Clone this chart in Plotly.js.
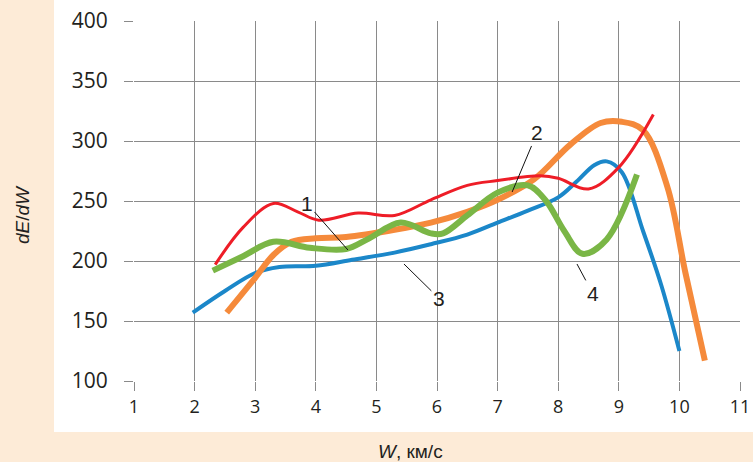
<!DOCTYPE html>
<html>
<head>
<meta charset="utf-8">
<script src="https://cdn.plot.ly/plotly-3.0.1.min.js"></script>
<style>html,body{margin:0;padding:0;background:#fdebd7;}#chart{width:753px;height:462px;}</style>
</head>
<body>
<div id="chart"></div>
<script>
// Curve 1 (red)
const x1 = [2.34, 2.8, 3.3, 3.7, 4.05, 4.7, 5.3, 5.9, 6.5, 7.0, 7.7, 8.0, 8.5, 9.0, 9.57];
const y1 = [197, 228, 248, 241, 234, 240, 238, 251, 263, 267, 271, 269, 260, 278, 322];
// Curve 2 (orange)
const x2 = [2.53, 3.0, 3.3, 3.6, 4.0, 4.5, 5.3, 5.9, 6.5, 7.0, 7.6, 8.2, 8.7, 9.05, 9.4, 9.8, 10.1, 10.42];
const y2 = [157, 186, 205, 216, 219, 220, 226, 232, 241, 251, 268, 297, 315, 316, 309, 262, 190, 117];
// Curve 3 (blue)
const x3 = [1.97, 2.5, 3.0, 3.4, 4.0, 4.6, 5.3, 5.9, 6.5, 7.0, 7.5, 8.0, 8.3, 8.6, 8.8, 9.05, 9.4, 9.7, 10.0];
const y3 = [157, 175, 190, 195, 196, 201, 207, 214, 222, 232, 242, 253, 266, 280, 283, 274, 225, 180, 125];
// Curve 4 (green)
const x4 = [2.3, 2.8, 3.3, 3.9, 4.5, 4.85, 5.4, 5.9, 6.1, 6.5, 7.0, 7.5, 7.8, 8.1, 8.4, 8.8, 9.3];
const y4 = [192, 204, 216, 211, 210, 218, 232, 223, 223, 238, 257, 263, 250, 225, 206, 218, 272];

// Curve labels: text position and leader tip
const labelText = ["1", "2", "3", "4"];
const labelX = [3.855, 7.65, 6.03, 8.57];
const labelY = [248, 306.7, 169, 173];
const tipX = [4.53, 7.24, 5.455, 8.31];
const tipY = [209.2, 257.5, 197.5, 197.5];

const xTicks = [1, 2, 3, 4, 5, 6, 7, 8, 9, 10, 11];
const yTicks = [100, 150, 200, 250, 300, 350, 400];

function tr(x, y, color, w) {
  return {x: x, y: y, type: 'scatter', mode: 'lines', hoverinfo: 'skip',
    line: {color: color, width: w, shape: 'spline', smoothing: 1}};
}
const data = [
  tr(x3, y3, '#1b87c9', 4),
  tr(x2, y2, '#f58a3b', 6),
  tr(x4, y4, '#7ab646', 6),
  tr(x1, y1, '#ee1d27', 3)
];

const annotations = labelText.map((t, i) => ({
  x: tipX[i], y: tipY[i], xref: 'x', yref: 'y',
  ax: labelX[i], ay: labelY[i], axref: 'x', ayref: 'y',
  text: t, showarrow: true, arrowhead: 0, arrowwidth: 1, arrowcolor: '#111',
  standoff: 0, startstandoff: 0,
  font: {family: 'Liberation Sans, Arial, sans-serif', size: 21, color: '#231f20'}
}));
annotations.push({
  xref: 'paper', yref: 'paper', x: (410 - 134) / 606, y: (381 - 451) / 360,
  text: '<i>W</i>, км/с', showarrow: false, xanchor: 'center', yanchor: 'middle',
  font: {family: 'Liberation Sans, Arial, sans-serif', size: 19, color: '#231f20'}
});
annotations.push({
  xref: 'paper', yref: 'paper', x: (22 - 134) / 606, y: (381 - 215) / 360,
  text: '<i>dE</i>/<i>dW</i>', showarrow: false, textangle: -90, xanchor: 'center', yanchor: 'middle',
  font: {family: 'Liberation Sans, Arial, sans-serif', size: 19, color: '#231f20'}
});

const layout = {
  width: 753, height: 462,
  margin: {l: 134, r: 13, t: 21, b: 81},
  paper_bgcolor: '#fdebd7', plot_bgcolor: '#ffffff',
  showlegend: false,
  xaxis: {range: [1, 11], tickvals: xTicks, ticktext: xTicks.map(String),
    showgrid: true, gridcolor: '#8a8a8a', gridwidth: 1, zeroline: false, showline: false,
    ticks: 'outside', ticklen: 9, tickcolor: '#8a8a8a', tickwidth: 1,
    tickfont: {family: 'Open Sans, sans-serif', size: 18, color: '#231f20'}},
  yaxis: {range: [100, 400], tickvals: yTicks,
    showgrid: true, gridcolor: '#8a8a8a', gridwidth: 1, zeroline: false, showline: false,
    ticks: 'outside', ticklen: 9, tickcolor: '#8a8a8a', tickwidth: 1, ticklabelstandoff: 12,
    tickfont: {family: 'Open Sans, sans-serif', size: 21, color: '#231f20'}},
  shapes: [{type: 'rect', xref: 'paper', yref: 'paper', layer: 'below',
    x0: (54 - 134) / 606, x1: (760 - 134) / 606, y0: (381 - 432) / 360, y1: (381 + 5) / 360,
    fillcolor: '#ffffff', line: {width: 0}}],
  annotations: annotations
};
Plotly.newPlot('chart', data, layout, {staticPlot: true});
</script>
</body>
</html>
